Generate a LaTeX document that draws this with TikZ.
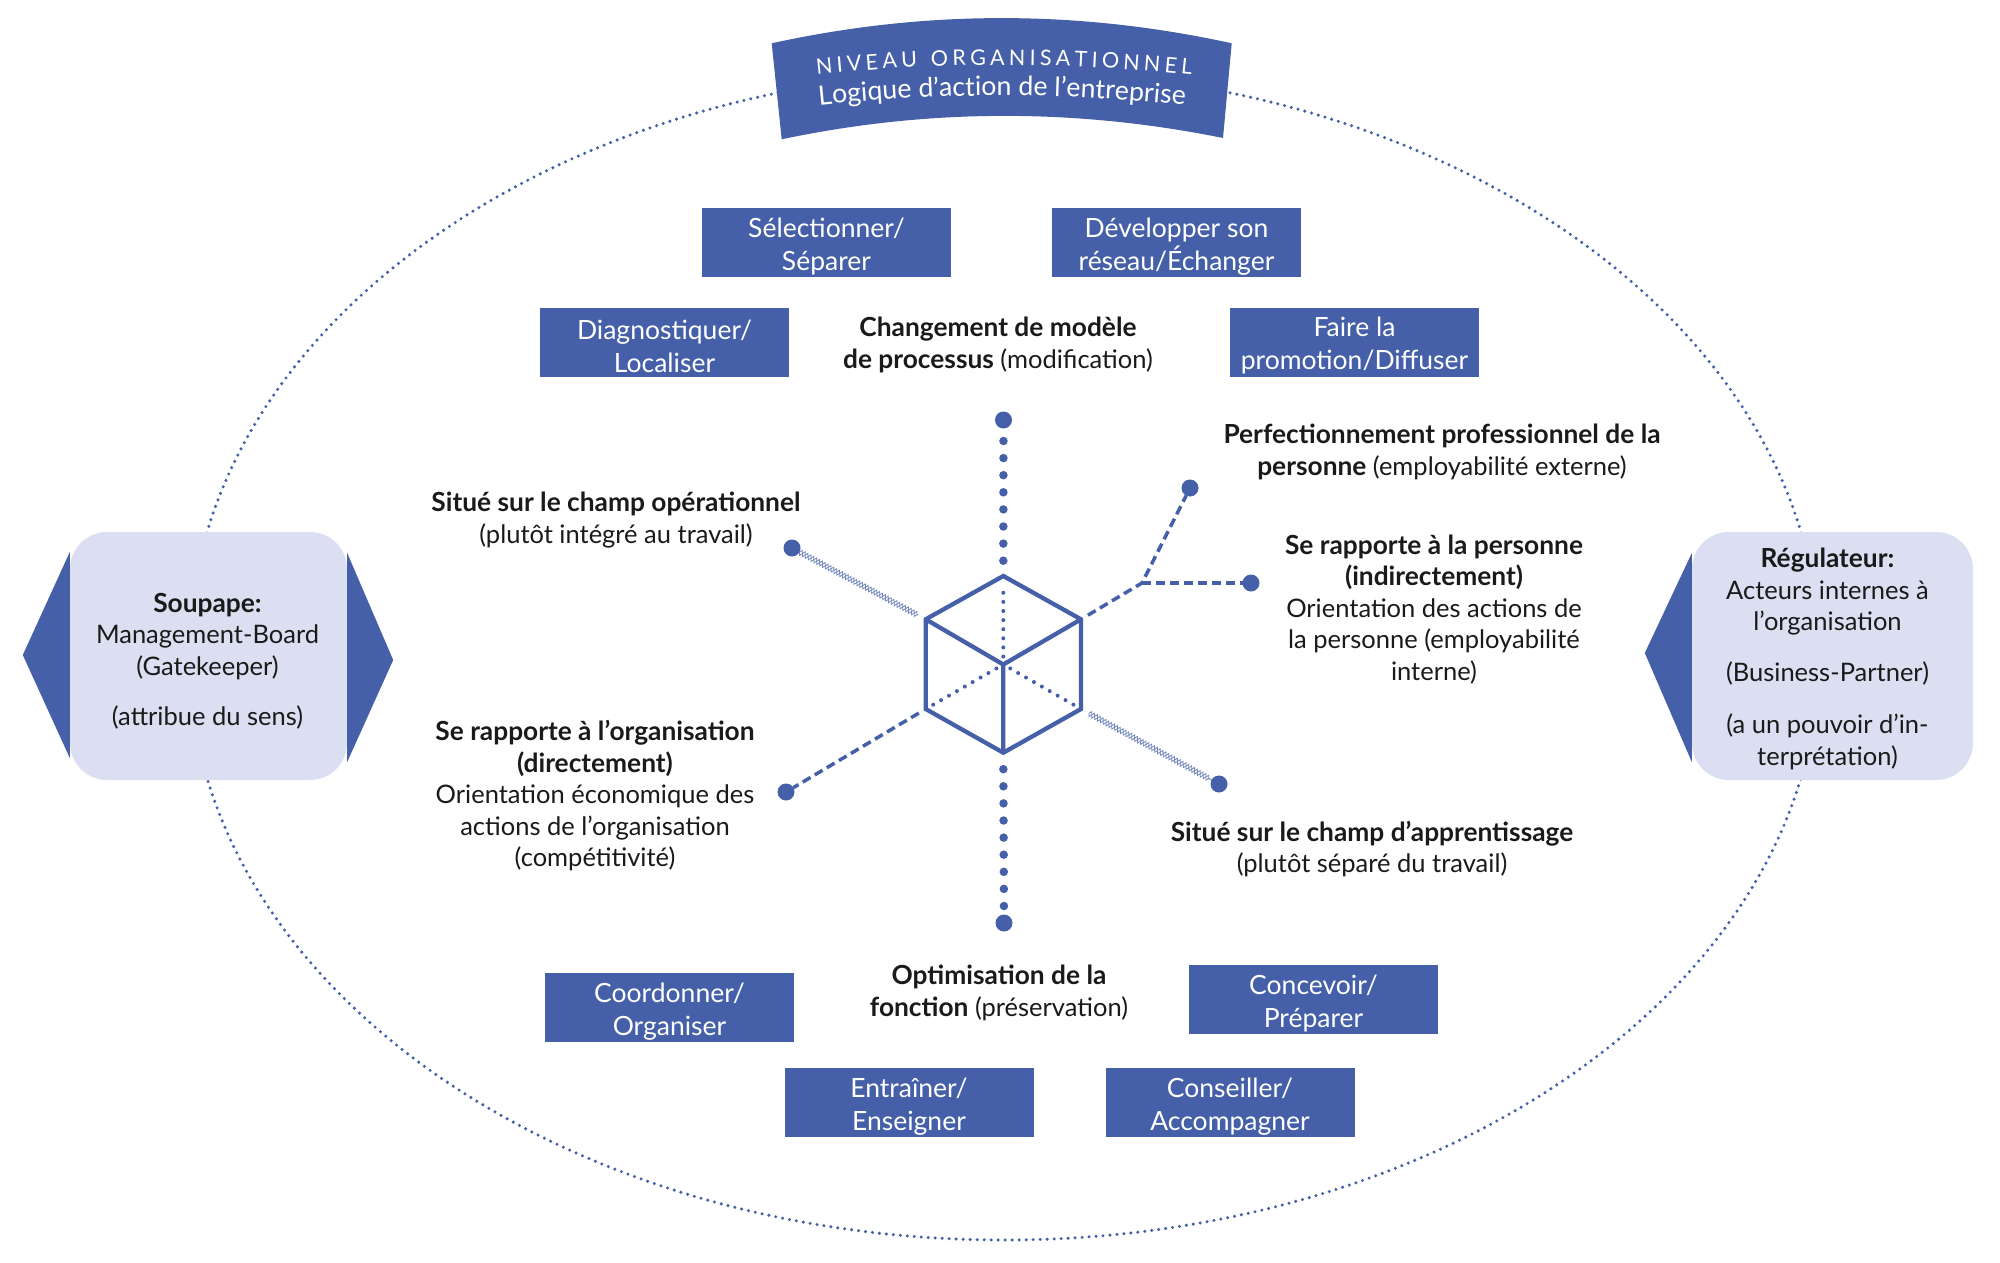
\documentclass[tikz,border=0pt]{standalone}
\usepackage{fontspec}
\setmainfont{Lato}
\usetikzlibrary{calc,decorations.pathmorphing,decorations.text}
\definecolor{cblue}{HTML}{4560A8}
\definecolor{clight}{HTML}{DCDFF1}
\definecolor{ctext}{HTML}{1A1A1A}
\newcommand\bodyfont{\fontsize{25.5pt}{31.5pt}\selectfont}
\newcommand\boxfont{\fontsize{26.5pt}{33pt}\selectfont}
\newcommand\bt[1]{{\fontsize{26.3pt}{31.5pt}\selectfont\bfseries #1}}
\begin{document}
\begin{tikzpicture}[x=1pt,y=-1pt,
 actbox/.style={fill=cblue, minimum width=249pt, minimum height=69pt, inner sep=0pt},
 boxtxt/.style={text=white, inner sep=0pt, align=center, font=\boxfont},
 lbl/.style={text=ctext, align=center, font=\bodyfont, inner sep=0pt},
 sidebox/.style={fill=clight, rounded corners=37pt, inner sep=0pt},
 bigdot/.style={circle, fill=cblue, minimum size=17pt, inner sep=0pt, outer sep=0pt},
 cubeline/.style={draw=cblue, line width=4.3pt, line join=miter},
 hdots/.style={draw=cblue, line width=4pt, line cap=round, dash pattern=on 0pt off 9.1pt, shorten <=8pt, shorten >=8pt},
 vdots/.style={draw=cblue, line width=8.5pt, line cap=round, dash pattern=on 0pt off 17.1pt},
 dsh/.style={draw=cblue, line width=3.5pt, dash pattern=on 9pt off 5pt},
 chain/.style={draw=cblue!75, line width=0.8pt, decorate, decoration={zigzag, amplitude=2.8pt, segment length=6.5pt}},
 ]
\useasboundingbox (0,0) rectangle (2000,1263);
\fill[white] (0,0) rectangle (2000,1263);

% outer dotted ellipse
\draw[cblue, line width=3.4pt, line cap=round, dash pattern=on 0pt off 7pt] (1004,655) ellipse [x radius=815, y radius=585];

% banner
\fill[cblue] (771.7,43.3) .. controls (925,9.7) and (1078.4,9.7) .. (1231.7,43.3) -- (1223,138) .. controls (1076,108.3) and (928.5,108.3) .. (781.7,139.3) -- cycle;
\path[decorate, decoration={text along path, text align=center,
  text={|\fontsize{21.5pt}{21.5pt}\selectfont\color{white}\kern4.2pt|NIVEAU ORGANISATIONNEL}}]
  (790,77.6) .. controls (931.3,60.8) and (1072.7,60.8) .. (1214,77.6);
\path[decorate, decoration={text along path, text align=center,
  text={|\fontsize{26.7pt}{26.7pt}\selectfont\color{white}|Logique d’action de l’entreprise}}]
  (790,108.3) .. controls (931.3,91.5) and (1072.7,91.5) .. (1214,108.3);

% activity boxes
\node[actbox] (sel) at (826.5,242.5) {};
\node[actbox] (dev) at (1176.5,242.5) {};
\node[actbox] (diag) at (664.5,342) {};
\node[actbox] (faire) at (1354.5,342) {};
\node[actbox] (coord) at (669.5,1007.5) {};
\node[actbox] (conc) at (1313.5,999.5) {};
\node[actbox] (entr) at (909,1102.5) {};
\node[actbox] (cons) at (1230,1102.5) {};
\node[boxtxt] (selT) at ([yshift=-4pt]sel.center) {Sélectionner/\\Séparer};
\node[boxtxt] (devT) at ([yshift=-4pt]dev.center) {Développer son\\réseau/Échanger};
\node[boxtxt] (diagT) at ([yshift=-4pt]diag.center) {Diagnostiquer/\\Localiser};
\node[boxtxt] (faireT) at ([yshift=-4pt]faire.center) {Faire la\\promotion/Diffuser};
\node[boxtxt] (coordT) at ([yshift=-4pt]coord.center) {Coordonner/\\Organiser};
\node[boxtxt] (concT) at ([yshift=-4pt]conc.center) {Concevoir/\\Préparer};
\node[boxtxt] (entrT) at ([yshift=-4pt]entr.center) {Entraîner/\\Enseigner};
\node[boxtxt] (consT) at ([yshift=-4pt]cons.center) {Conseiller/\\Accompagner};

% labels
\node[lbl] (chg) at (998,345) {\bt{Changement de modèle}\\\bt{de processus} (modification)};
\node[lbl] (opt) at (999,993) {\bt{Optimisation de la}\\\bt{fonction} (préservation)};
\node[lbl] (perf) at (1442,452) {\bt{Perfectionnement professionnel de la}\\\bt{personne} (employabilité externe)};
\node[lbl] (spers) at (1434,609.5) {\bt{Se rapporte à la personne}\\\bt{(indirectement)}\\Orientation des actions de\\la personne (employabilité\\interne)};
\node[lbl] (sapp) at (1372,849) {\bt{Situé sur le champ d’apprentissage}\\(plutôt séparé du travail)};
\node[lbl] (sop) at (616,520) {\bt{Situé sur le champ opérationnel}\\(plutôt intégré au travail)};
\node[lbl] (sorg) at (595,796) {\bt{Se rapporte à l’organisation}\\\bt{(directement)}\\Orientation économique des\\actions de l’organisation\\(compétitivité)};

% side boxes
\node[sidebox, minimum width=277pt, minimum height=248pt] (soup) at (208.5,656) {};
\node[sidebox, minimum width=281pt, minimum height=248pt] (reg) at (1832.5,656) {};
\fill[cblue] ($(soup.west)+(0,-104)$) -- ($(soup.west)+(-47,-1)$) -- ($(soup.west)+(0,102)$) -- cycle;
\fill[cblue] ($(soup.east)+(0,-103)$) -- ($(soup.east)+(46,4)$) -- ($(soup.east)+(0,106)$) -- cycle;
\fill[cblue] ($(reg.west)+(0,-103)$) -- ($(reg.west)+(-47,-3)$) -- ($(reg.west)+(0,106)$) -- cycle;
\node[lbl] (soupT) at ($(soup.center)+(-1,5)$) {\bt{Soupape:}\\Management-Board\\(Gatekeeper)\\[19pt](attribue du sens)};
\node[lbl] (regT) at ($(reg.center)+(-5,3)$) {\bt{Régulateur:}\\Acteurs internes à\\l’organisation\\[19pt](Business-Partner)\\[21pt](a un pouvoir d’in-\\terprétation)};

% cube
\coordinate (cT) at (1003.3,576);
\coordinate (cUL) at (925.7,619.3);
\coordinate (cUR) at (1081,619.3);
\coordinate (cC) at (1003.3,664.5);
\coordinate (cLL) at (925.7,709);
\coordinate (cLR) at (1081,709);
\coordinate (cB) at (1003.3,752.7);
\draw[hdots] (cC) -- (cT);
\draw[hdots] (cC) -- (cLL);
\draw[hdots] (cC) -- (cLR);
\draw[cubeline] (cT) -- (cUR) -- (cLR) -- (cB) -- (cLL) -- (cUL) -- cycle;
\draw[cubeline] (cUL) -- (cC) -- (cUR) (cC) -- (cB);

% end dots
\node[bigdot] (dT) at (1003.5,420) {};
\node[bigdot] (dB) at (1004,923) {};
\node[bigdot] (dUL) at (792,548) {};
\node[bigdot] (dLL) at (786,792) {};
\node[bigdot] (dPR) at (1190,488) {};
\node[bigdot] (dSR) at (1251,583) {};
\node[bigdot] (dLR) at (1219,784) {};
\coordinate (J) at (1142,583);

% connectors
\draw[vdots, shorten <=12.5pt, shorten >=10pt] (dT) -- (cT);
\draw[vdots, shorten <=8.5pt, shorten >=8pt] (dB) -- (cB);
\draw[dsh, shorten <=8pt] (cUR) -- (J) -- (dPR);
\draw[dsh] (J) -- (dSR);
\draw[dsh, shorten <=8pt] (cLL) -- (dLL);
\coordinate (ulA) at ($(cUL)!9pt!(dUL)$);
\coordinate (lrA) at ($(cLR)!9pt!(dLR)$);
\draw[chain] (dUL) -- (ulA);
\draw[chain, decoration={mirror}] (dUL) -- (ulA);
\draw[chain] (lrA) -- (dLR);
\draw[chain, decoration={mirror}] (lrA) -- (dLR);
\end{tikzpicture}
\end{document}
